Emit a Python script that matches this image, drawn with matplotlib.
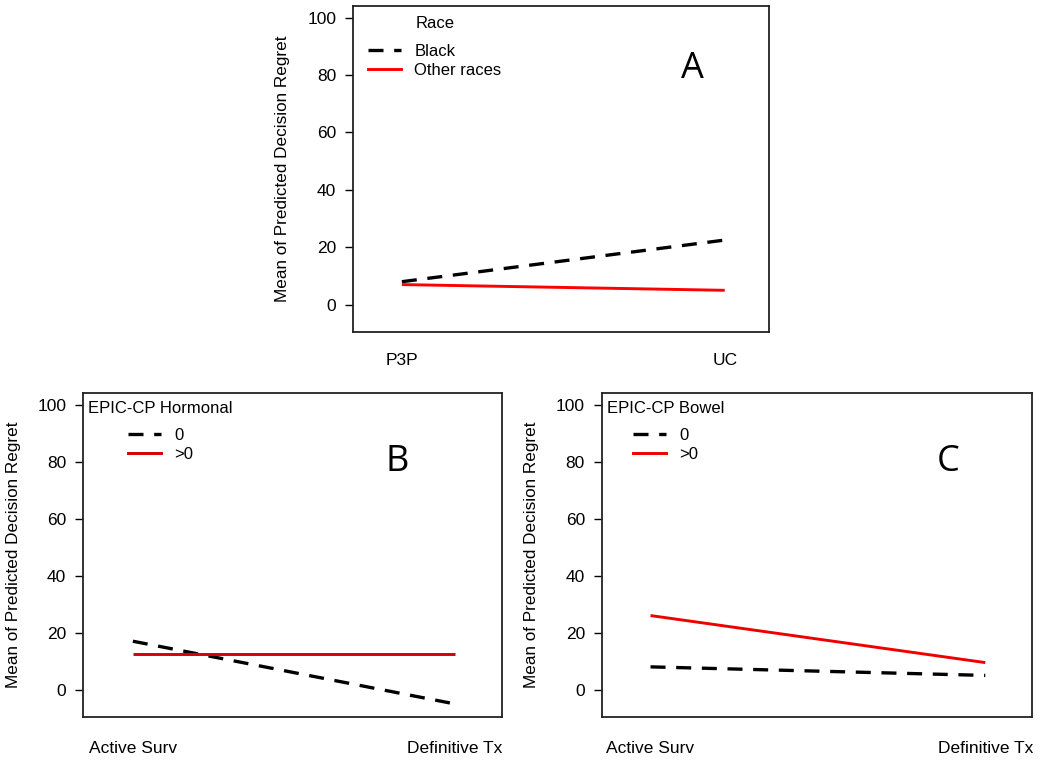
import matplotlib
matplotlib.use("Agg")
import matplotlib.pyplot as plt
from matplotlib.lines import Line2D

plt.rcParams['font.family'] = ['Liberation Sans', 'DejaVu Sans']

# panel A: race
a_groups = ["P3P", "UC"]
a_black = [8.0, 22.5]
a_other = [7.0, 5.0]

# panel B: EPIC-CP hormonal
b_groups = ["Active Surv", "Definitive Tx"]
b_zero = [17.0, -5.0]
b_pos = [12.5, 12.5]

# panel C: EPIC-CP bowel
c_groups = ["Active Surv", "Definitive Tx"]
c_zero = [8.0, 5.0]
c_pos = [26.0, 9.5]

ylabel = "Mean of Predicted Decision Regret"
yticks = [0, 20, 40, 60, 80, 100]

fig = plt.figure(figsize=(10.5, 7.62), dpi=100)


def panel(rect, groups, dashed, solid, red, letter, letter_xy,
          leg_title, leg_labels, leg_anchor, xlim, xpad):
    ax = fig.add_axes(rect)
    xs = list(range(len(groups)))
    ax.plot(xs, dashed, color='black', lw=2.4, dashes=(4.5, 3.2),
            solid_capstyle='butt', dash_capstyle='butt')
    ax.plot(xs, solid, color=red, lw=2.1, solid_capstyle='butt')
    ax.set_xlim(*xlim)
    ax.set_ylim(-9.6, 104)
    ax.set_yticks(yticks)
    ax.set_xticks(xs)
    ax.set_xticklabels(groups)
    ax.tick_params(axis='x', length=0, pad=xpad, labelsize=12.5)
    ax.tick_params(axis='y', length=6, width=1, pad=6, labelsize=12.5)
    ax.set_ylabel(ylabel, fontsize=12.3, labelpad=12)
    for s in ax.spines.values():
        s.set_linewidth(1.3)
        s.set_color('#222222')
    ax.text(letter_xy[0], letter_xy[1], letter, fontsize=26,
            family=['Open Sans', 'DejaVu Sans'], ha='center', va='center')
    handles = [
        Line2D([], [], color='black', lw=2.4, dashes=(4.5, 3.2)),
        Line2D([], [], color=red, lw=2.1),
    ]
    leg = ax.legend(handles, leg_labels, title=leg_title, loc='upper left',
                    bbox_to_anchor=leg_anchor, frameon=False, fontsize=12,
                    title_fontsize=12, handlelength=2.0, handletextpad=0.8,
                    labelspacing=0.25, borderpad=0.2)
    leg._legend_box.sep = 9
    return ax


panel([0.336, 0.564, 0.396, 0.428], a_groups, a_black, a_other, '#ff0000',
      "A", (0.90, 82), "Race", ["Black", "Other races"], (0.008, 1.005),
      (-0.152, 1.136), 15)
panel([0.079, 0.059, 0.399, 0.425], b_groups, b_zero, b_pos, '#d40000',
      "B", (0.82, 80), "EPIC-CP Hormonal", ["0", ">0"], (-0.015, 1.013),
      (-0.155, 1.146), 17)
panel([0.573, 0.059, 0.410, 0.425], c_groups, c_zero, c_pos, '#ee0000',
      "C", (0.89, 80), "EPIC-CP Bowel", ["0", ">0"], (-0.015, 1.013),
      (-0.146, 1.14), 17)

fig.savefig("out.png", dpi=100)
